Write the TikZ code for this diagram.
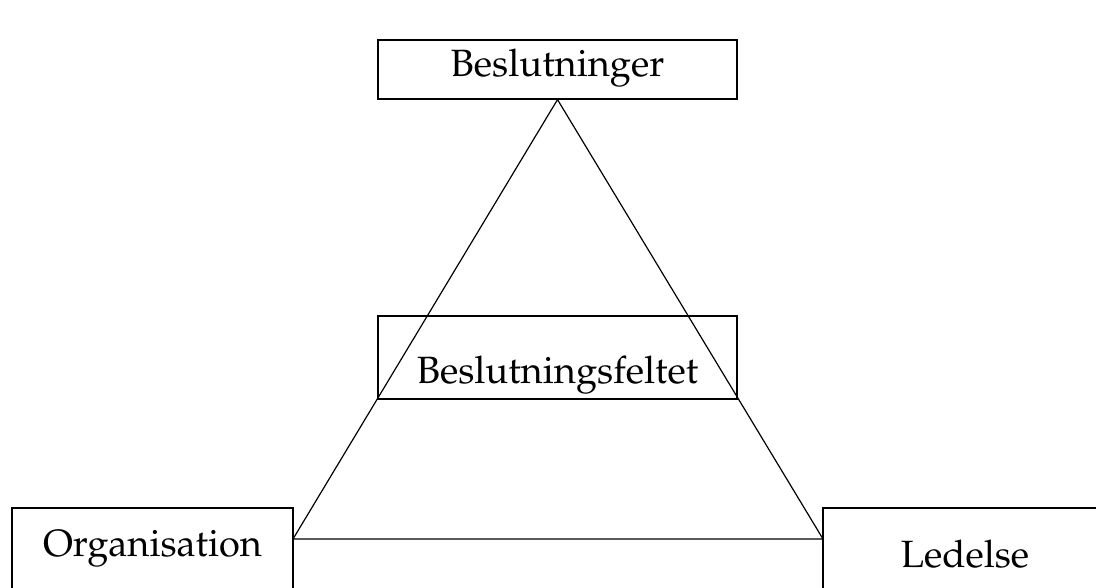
\documentclass[tikz,border=0pt]{standalone}
\usepackage[T1]{fontenc}
\usepackage{mathpazo}
\begin{document}
\begin{tikzpicture}[x=0.5pt,y=-0.5pt,line width=0.6pt,
    boks/.style={draw,rectangle,inner sep=0pt,anchor=base,
      font=\fontsize{19}{23}\selectfont}]
  \useasboundingbox (0,0) rectangle (1096,588);
  \clip (0,0) rectangle (1096,588);

  \node[boks,minimum width=179.5pt,text height=18.5pt,text depth=11pt]
    (beslut) at (557.5,77) {Beslutninger};
  \node[boks,minimum width=179.5pt,text height=33.5pt,text depth=8pt]
    (felt) at (557.5,383) {Beslutningsfeltet};
  \node[boks,minimum width=140.5pt,text height=24pt,text depth=20pt]
    (org) at (152.5,556) {Organisation};
  \node[boks,minimum width=142pt,text height=29.5pt,text depth=15pt]
    (led) at (965,567) {Ledelse};

  \coordinate (venstre) at (293,539);
  \coordinate (hojre) at (823,539);
  \draw (beslut.south) -- (venstre) -- (hojre) -- cycle;
\end{tikzpicture}
\end{document}
